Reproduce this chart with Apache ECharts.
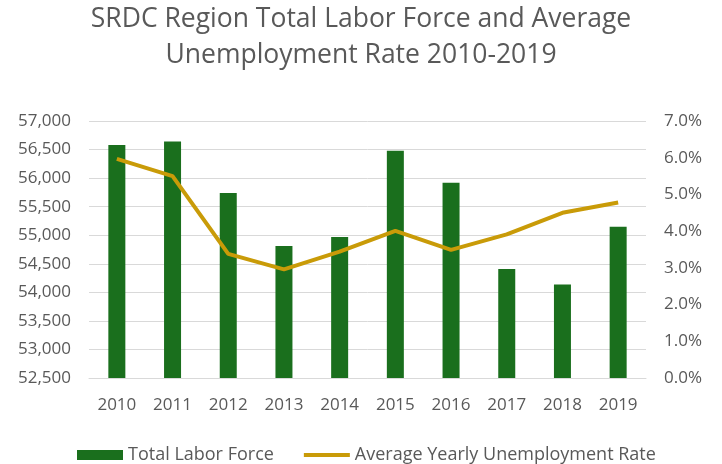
<!DOCTYPE html>
<html><head><meta charset="utf-8">
<script src="https://cdn.jsdelivr.net/npm/echarts@6/dist/echarts.min.js"></script>
<style>html,body{margin:0;padding:0;background:#fff}#c{width:722px;height:464px}</style>
</head><body><div id="c"></div>
<script>
var years = ['2010','2011','2012','2013','2014','2015','2016','2017','2018','2019'];
var laborForce = [56580, 56640, 55740, 54810, 54970, 56480, 55920, 54410, 54135, 55150];
var unemploymentRate = [5.97, 5.50, 3.38, 2.96, 3.44, 4.01, 3.49, 3.91, 4.50, 4.78];
var titleText = 'SRDC Region Total Labor Force and Average\nUnemployment Rate 2010-2019';
var seriesNames = ['Total Labor Force', 'Average Yearly Unemployment Rate'];

var FONT = '"Open Sans", sans-serif';
var TXT = '#595959';
var GOLD = '#c99b08';
var chart = echarts.init(document.getElementById('c'), null, {renderer:'canvas'});
chart.setOption({
  animation:false,
  backgroundColor:'#ffffff',
  title:{text:titleText,left:'center',top:-4,
    textStyle:{fontFamily:FONT,fontSize:26.5,fontWeight:'normal',color:TXT,lineHeight:36}},
  legend:{top:441,left:72,itemGap:30,itemWidth:46,itemHeight:10,symbolKeepAspect:true,
    textStyle:{fontFamily:FONT,fontSize:18,color:TXT},
    data:[{name:seriesNames[0],icon:'rect'},
          {name:seriesNames[1],icon:'path://M0,0H46V4H0Z',itemStyle:{color:GOLD,borderWidth:0},lineStyle:{width:0,opacity:0}}]},
  grid:{left:89,right:76,top:121,height:257},
  xAxis:{type:'category',data:years,
    axisLine:{lineStyle:{color:'#d9d9d9'}},axisTick:{show:false},
    axisLabel:{fontFamily:FONT,fontSize:17,color:TXT,margin:19}},
  yAxis:[
    {type:'value',min:52500,max:57000,interval:500,
     axisLine:{show:false},axisTick:{show:false},
     splitLine:{lineStyle:{color:'#d9d9d9',width:1}},
     axisLabel:{fontFamily:FONT,fontSize:17,color:TXT,margin:18,
       formatter:function(v){return v.toLocaleString('en-US');}}},
    {type:'value',min:0,max:7,interval:1,
     axisLine:{show:false},axisTick:{show:false},splitLine:{show:false},
     axisLabel:{fontFamily:FONT,fontSize:17,color:TXT,margin:18,
       formatter:function(v){return v.toFixed(1)+'%';}}}
  ],
  series:[
    {name:seriesNames[0],type:'bar',data:laborForce,barWidth:17,
     itemStyle:{color:'#1a6f1d'}},
    {name:seriesNames[1],type:'line',yAxisIndex:1,data:unemploymentRate,
     showSymbol:false,symbol:'none',lineStyle:{color:GOLD,width:4},itemStyle:{color:GOLD}}
  ]
});
</script></body></html>
